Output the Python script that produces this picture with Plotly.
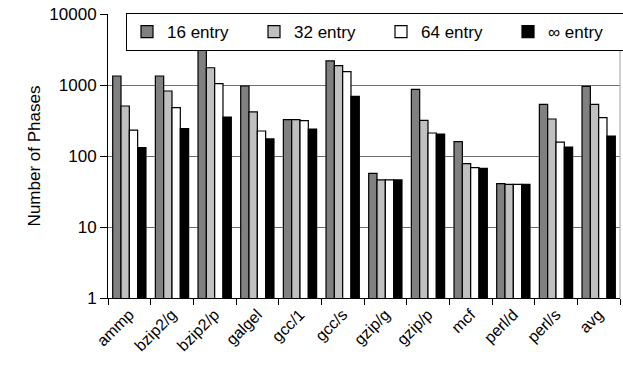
import plotly.graph_objects as go

categories = ["ammp", "bzip2/g", "bzip2/p", "galgel", "gcc/1", "gcc/s",
              "gzip/g", "gzip/p", "mcf", "perl/d", "perl/s", "avg"]
series_names = ["16 entry", "32 entry", "64 entry", "\u221e entry"]
v16 = [1340, 1340, 3180, 968, 325, 2180, 57, 869, 159, 40.7, 535, 957]
v32 = [506, 823, 1750, 417, 325, 1870, 46, 318, 78, 39.8, 332, 535]
v64 = [232, 479, 1043, 225, 315, 1540, 46, 211, 68.5, 39.8, 157, 347]
vinf = [131, 243, 354, 174, 240, 693, 46, 204, 67, 39.8, 134, 191]
colors = ["#808080", "#C0C0C0", "#FFFFFF", "#000000"]
y_ticks = [1, 10, 100, 1000, 10000]

FONT = "Liberation Sans, Arial, sans-serif"

fig = go.Figure()
for name, vals, col in zip(series_names, [v16, v32, v64, vinf], colors):
    fig.add_trace(go.Bar(
        x=categories, y=vals, name=name,
        marker=dict(color=col, line=dict(color="#000000", width=1.2)),
    ))

fig.update_layout(
    width=623, height=372,
    margin=dict(l=108, r=3, t=14, b=74, autoexpand=False),
    paper_bgcolor="white", plot_bgcolor="white",
    barmode="group", bargap=0.22, bargroupgap=0,
    font=dict(family=FONT, size=17, color="#000000"),
    showlegend=True,
    legend=dict(
        orientation="h", xref="container", yref="container",
        x=126 / 623, y=1 - 13 / 372, xanchor="left", yanchor="top",
        bgcolor="white", bordercolor="#000000", borderwidth=1,
        font=dict(family=FONT, size=17),
        entrywidth=82, entrywidthmode="pixels",
        itemwidth=30, traceorder="normal", tracegroupgap=0,
    ),
    xaxis=dict(
        showline=True, linecolor="#000000", linewidth=1,
        ticks="outside", ticklen=6, tickcolor="#000000",
        tickson="boundaries", tickangle=-45,
        tickfont=dict(family=FONT, size=16),
        showgrid=False,
    ),
    yaxis=dict(
        type="log", range=[0, 4],
        tickvals=y_ticks, ticktext=[str(t) for t in y_ticks],
        showline=True, linecolor="#000000", linewidth=1,
        ticks="outside", ticklen=7, tickcolor="#000000",
        showgrid=True, gridcolor="#707070", gridwidth=1,
        zeroline=False,
        tickfont=dict(family=FONT, size=17),
        title=dict(text="Number of Phases", font=dict(family=FONT, size=17), standoff=4),
    ),
    shapes=[dict(type="line", xref="paper", yref="paper", x0=1, x1=1, y0=0, y1=1,
                 line=dict(color="#A0A0A0", width=1))],
)

fig.write_html("out.html")
